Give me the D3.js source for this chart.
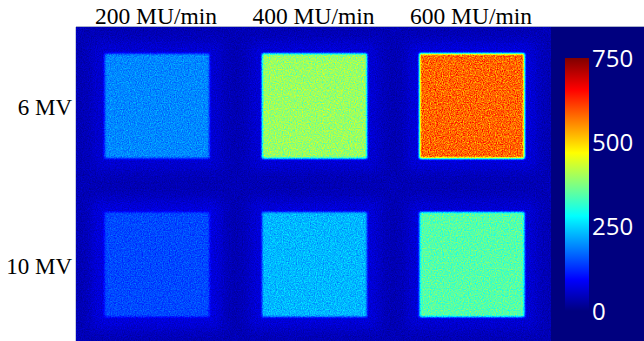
<!DOCTYPE html>
<html><head><meta charset="utf-8">
<script src="https://cdn.jsdelivr.net/npm/d3@7"></script>
<style>html,body{margin:0;padding:0;background:#fff;}svg{display:block;}</style>
</head><body>
<script>
// ---- data ----
const doseRates = ["200 MU/min", "400 MU/min", "600 MU/min"];
const energies = ["6 MV", "10 MV"];
const values6MV = [195, 395, 582];
const values10MV = [148, 228, 345];
const halo6MV = [62, 66, 68];
const halo10MV = [72, 68, 66];
const backgroundValue = 40;
const colorbarTicks = [0, 250, 500, 750];
const colorDomain = [0, 750];

const W = 644, H = 341;
const svg = d3.select("body").append("svg").attr("width", W).attr("height", H);
const defs = svg.append("defs");

// jet colormap
const jet = d3.scaleLinear()
  .domain([0, 0.125, 0.375, 0.625, 0.875, 1])
  .range(["#00007f", "#0000ff", "#00ffff", "#ffff00", "#ff0000", "#7f0000"])
  .interpolate(d3.interpolateRgb);
const norm = d3.scaleLinear().domain(colorDomain).range([0, 1]).clamp(true);
const gray = v => { const g = Math.round(norm(v) * 255); return `rgb(${g},${g},${g})`; };

// layout
const img = {x0: 76, y0: 27, x1: 551, y1: H};
const x = d3.scalePoint().domain(doseRates).range([157, 472]);
const y = d3.scalePoint().domain(energies).range([106, 264.5]);
const sq = 105, haloPad = 12;

// filters
const haloF = defs.append("filter").attr("id", "haloBlur").attr("color-interpolation-filters", "sRGB")
  .attr("x", "-50%").attr("y", "-50%").attr("width", "200%").attr("height", "200%");
haloF.append("feGaussianBlur").attr("stdDeviation", 6);

const N = 65;
const samples = d3.range(N).map(i => d3.rgb(jet(i / (N - 1))));
const cm = defs.append("filter").attr("id", "cmap").attr("color-interpolation-filters", "sRGB")
  .attr("filterUnits", "userSpaceOnUse").attr("x", 0).attr("y", 0).attr("width", W).attr("height", H);
cm.append("feGaussianBlur").attr("in", "SourceGraphic").attr("stdDeviation", 0.9).attr("result", "b");
cm.append("feTurbulence").attr("type", "fractalNoise").attr("baseFrequency", 0.85).attr("numOctaves", 2).attr("seed", 3).attr("result", "t");
cm.append("feColorMatrix").attr("in", "t").attr("type", "matrix")
  .attr("values", "1 0 0 0 0  1 0 0 0 0  1 0 0 0 0  0 0 0 0 1").attr("result", "n");
cm.append("feComposite").attr("in", "b").attr("in2", "n").attr("operator", "arithmetic")
  .attr("k1", 0.34).attr("k2", 0.83).attr("k3", 0.08).attr("k4", -0.04).attr("result", "c");
const ct = cm.append("feComponentTransfer").attr("in", "c");
ct.append("feFuncR").attr("type", "table").attr("tableValues", samples.map(c => (c.r / 255).toFixed(4)).join(" "));
ct.append("feFuncG").attr("type", "table").attr("tableValues", samples.map(c => (c.g / 255).toFixed(4)).join(" "));
ct.append("feFuncB").attr("type", "table").attr("tableValues", samples.map(c => (c.b / 255).toFixed(4)).join(" "));
ct.append("feFuncA").attr("type", "linear").attr("slope", 0).attr("intercept", 1);

defs.append("clipPath").attr("id", "imgClip").append("rect")
  .attr("x", img.x0).attr("y", img.y0).attr("width", img.x1 - img.x0).attr("height", img.y1 - img.y0);

// colorbar panel background
svg.append("rect").attr("x", img.x1).attr("y", img.y0).attr("width", W - img.x1).attr("height", H - img.y0)
  .attr("fill", jet(0));

// image
const clipG = svg.append("g").attr("clip-path", "url(#imgClip)");
const field = clipG.append("g").attr("filter", "url(#cmap)");
field.append("rect").attr("x", img.x0 - 20).attr("y", img.y0 - 20)
  .attr("width", img.x1 - img.x0 + 40).attr("height", img.y1 - img.y0 + 40).attr("fill", gray(backgroundValue));

const cells = [];
energies.forEach((e, r) => doseRates.forEach((d, c) => {
  cells.push({e, d, v: r === 0 ? values6MV[c] : values10MV[c], h: r === 0 ? halo6MV[c] : halo10MV[c]});
}));
field.append("g").attr("filter", "url(#haloBlur)").selectAll("rect").data(cells).join("rect")
  .attr("x", d => x(d.d) - sq / 2 - haloPad).attr("y", d => y(d.e) - sq / 2 - haloPad)
  .attr("width", sq + 2 * haloPad).attr("height", sq + 2 * haloPad).attr("fill", d => gray(d.h));
field.append("g").selectAll("rect").data(cells).join("rect")
  .attr("x", d => x(d.d) - sq / 2).attr("y", d => y(d.e) - sq / 2)
  .attr("width", sq).attr("height", sq).attr("fill", d => gray(d.v));

// image border
svg.append("line").attr("x1", img.x0).attr("x2", W).attr("y1", img.y0 - 0.5).attr("y2", img.y0 - 0.5)
  .attr("stroke", "#aab2cc").attr("stroke-width", 1);
svg.append("line").attr("x1", img.x0 - 0.5).attr("x2", img.x0 - 0.5).attr("y1", img.y0).attr("y2", H)
  .attr("stroke", "#c8cce0").attr("stroke-width", 1);

// colorbar
const cb = {x: 565, w: 24};
const cy = d3.scaleLinear().domain(colorDomain).range([311, 58]);
const grad = defs.append("linearGradient").attr("id", "cbGrad").attr("x1", 0).attr("x2", 0).attr("y1", 1).attr("y2", 0);
grad.selectAll("stop").data(d3.range(0, 1.0001, 0.0625)).join("stop")
  .attr("offset", d => d).attr("stop-color", d => jet(d));
svg.append("rect").attr("x", cb.x).attr("y", cy(colorDomain[1])).attr("width", cb.w)
  .attr("height", cy(colorDomain[0]) - cy(colorDomain[1])).attr("fill", "url(#cbGrad)");
const axis = d3.axisRight(cy).tickValues(colorbarTicks).tickSize(0).tickPadding(3);
const ag = svg.append("g").attr("transform", `translate(${cb.x + cb.w},0)`).call(axis);
ag.select(".domain").remove();
ag.selectAll("text").attr("fill", "#fff").attr("font-family", "'Open Sans', sans-serif")
  .attr("font-size", 24).attr("dy", "0.34em");

// column labels
svg.append("g").selectAll("text").data(doseRates).join("text")
  .attr("x", d => x(d) - 1).attr("y", 23.5).attr("text-anchor", "middle")
  .attr("font-family", "'Liberation Serif', serif").attr("font-size", 23.5).attr("fill", "#000").text(d => d);
// row labels
svg.append("g").selectAll("text").data(energies).join("text")
  .attr("x", 72).attr("y", d => y(d) + 1).attr("dy", "0.35em").attr("text-anchor", "end")
  .attr("font-family", "'Liberation Serif', serif").attr("font-size", 23).attr("fill", "#000").text(d => d);
</script>
</body></html>
